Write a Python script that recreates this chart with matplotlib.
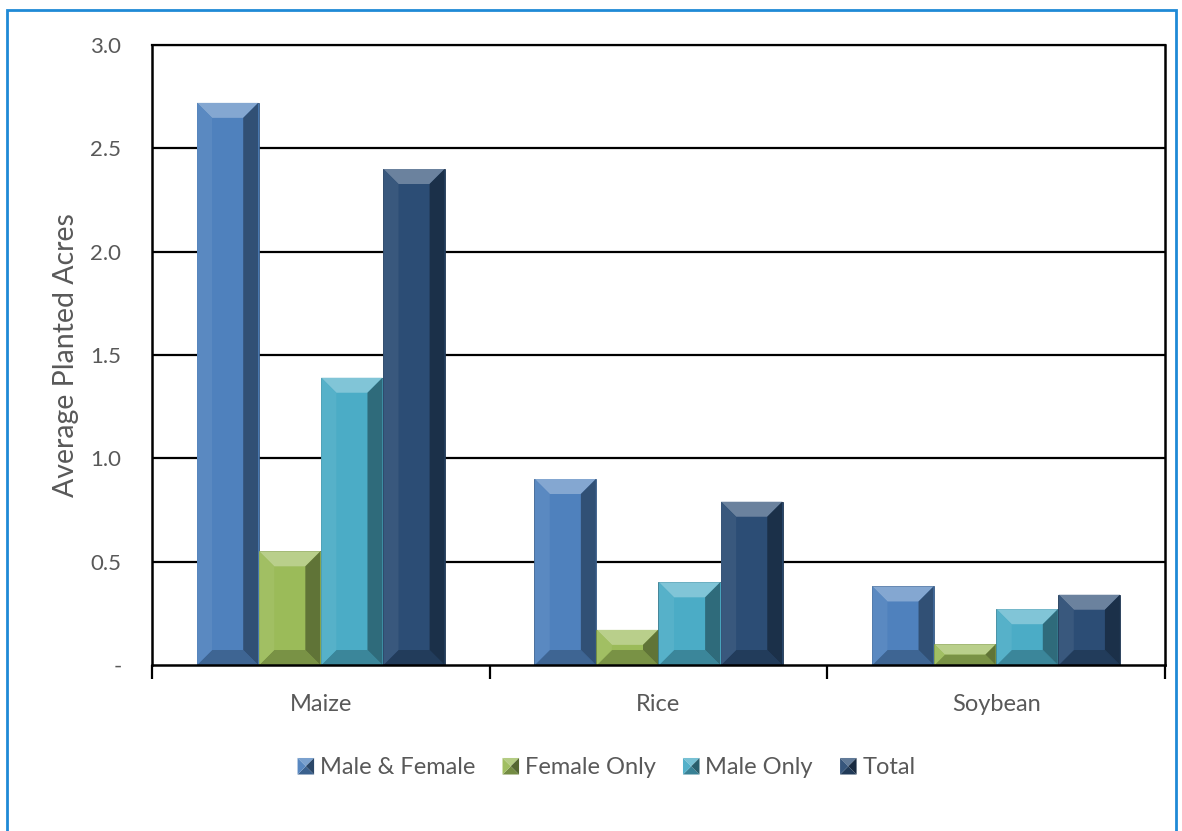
import matplotlib
matplotlib.use("Agg")
import matplotlib.pyplot as plt
import numpy as np
from matplotlib.patches import Polygon, Rectangle
from matplotlib.legend_handler import HandlerBase
from matplotlib.transforms import IdentityTransform
from matplotlib.colors import to_rgb

categories = ["Maize", "Rice", "Soybean"]
series_names = ["Male & Female", "Female Only", "Male Only", "Total"]
male_female = [2.72, 0.90, 0.38]
female_only = [0.55, 0.17, 0.10]
male_only = [1.39, 0.40, 0.27]
total = [2.40, 0.79, 0.34]
yticks = [0, 0.5, 1.0, 1.5, 2.0, 2.5, 3.0]
ytick_labels = ["-", "0.5", "1.0", "1.5", "2.0", "2.5", "3.0"]
colors = ["#4f81bd", "#9bbb59", "#4bacc6", "#2c4d75"]

plt.rcParams['font.family'] = ['Lato', 'DejaVu Sans']
TXT = "#595959"

W, H, DPI = 1182, 831, 100
fig = plt.figure(figsize=(W / DPI, H / DPI), dpi=DPI)
ax = fig.add_axes([152 / W, 1 - 665 / H, (1165 - 152) / W, (665 - 45) / H])

def mix(c, other, t):
    c = np.array(to_rgb(c)); o = np.array(to_rgb(other))
    return tuple(c * (1 - t) + o * t)

series = [male_female, female_only, male_only, total]
x = np.arange(len(categories))
bw = 0.184
ax.set_xlim(-0.5, len(categories) - 0.5)
ax.set_ylim(0, 3.0)

bars_all = []
for i, (vals, c) in enumerate(zip(series, colors)):
    off = (i - 1.5) * bw
    bars = ax.bar(x + off, vals, width=bw, color=c, edgecolor=mix(c, "black", 0.3),
                  linewidth=0.6, zorder=3, label=series_names[i])
    bars_all.append((bars, c))

for y in yticks[1:]:
    ax.axhline(y, color="black", lw=1.6, zorder=1)

for s in ["left", "right", "top", "bottom"]:
    ax.spines[s].set_color("black")
    ax.spines[s].set_linewidth(1.8)
ax.spines["top"].set_linewidth(1.6)
ax.spines["bottom"].set_zorder(5)

ax.set_yticks(yticks)
ax.set_yticklabels(ytick_labels, fontsize=16, color=TXT)
ax.tick_params(axis="y", length=0, pad=22)
ax.set_xticks(x)
ax.set_xticklabels(categories, fontsize=17, color=TXT)
ax.tick_params(axis="x", length=0, pad=21)
ax.set_xticks(np.arange(len(categories) + 1) - 0.5, minor=True)
ax.tick_params(axis="x", which="minor", length=10, width=1.6, color="black", direction="out")
ax.set_ylabel("Average Planted Acres", fontsize=20.5, color=TXT, labelpad=8)

# bevel overlays, computed from the bar geometry in display pixels
def bevel(ax, x0, y0, x1, y1, c, b_max=15, zorder=4):
    w, h = x1 - x0, y1 - y0
    b = min(b_max, h / 2, w / 2)
    polys = [
        ([(x0, y1), (x1, y1), (x1 - b, y1 - b), (x0 + b, y1 - b)], mix(c, "white", 0.30)),
        ([(x0, y0), (x1, y0), (x1 - b, y0 + b), (x0 + b, y0 + b)], mix(c, "black", 0.22)),
        ([(x0, y0), (x0 + b, y0 + b), (x0 + b, y1 - b), (x0, y1)], mix(c, "white", 0.06)),
        ([(x1, y0), (x1 - b, y0 + b), (x1 - b, y1 - b), (x1, y1)], mix(c, "black", 0.38)),
    ]
    for pts, col in polys:
        p = Polygon(pts, closed=True, facecolor=col, edgecolor="none",
                    transform=IdentityTransform(), zorder=zorder)
        ax.add_artist(p)

for bars, c in bars_all:
    for r in bars:
        (px0, py0), (px1, py1) = ax.transData.transform(
            [(r.get_x(), r.get_y()), (r.get_x() + r.get_width(), r.get_y() + r.get_height())])
        bevel(ax, px0 + 0.5, py0, px1 - 0.5, py1, c)

class BevelHandler(HandlerBase):
    def create_artists(self, legend, orig_handle, xdescent, ydescent, width, height, fontsize, trans):
        c = orig_handle.get_facecolor()
        s = height * 1.0
        cx = width - s / 2
        cy = height / 2 - ydescent
        x0, x1, y0, y1 = cx - s / 2, cx + s / 2, cy - s / 2, cy + s / 2
        m = (cx, cy)
        arts = []
        for pts, col in [
            ([(x0, y1), (x1, y1), m], mix(c, "white", 0.25)),
            ([(x0, y0), (x1, y0), m], mix(c, "black", 0.25)),
            ([(x0, y0), (x0, y1), m], mix(c, "white", 0.05)),
            ([(x1, y0), (x1, y1), m], mix(c, "black", 0.45)),
        ]:
            p = Polygon(pts, closed=True, facecolor=col, edgecolor="none", transform=trans)
            arts.append(p)
        return arts

handles = [Rectangle((0, 0), 1, 1, facecolor=c) for c in colors]
leg = fig.legend(handles, series_names, loc="center", bbox_to_anchor=(606 / W, 1 - 768 / H),
                 ncol=4, frameon=False, fontsize=17, labelcolor=TXT,
                 handler_map={Rectangle: BevelHandler()},
                 handlelength=0.75, handletextpad=0.25, columnspacing=1.1)

# outer light-blue frame
fig.patches.append(Rectangle((7 / W, -0.05), (1176 - 7) / W, 1 - 10 / H + 0.05,
                             transform=fig.transFigure, fill=False, edgecolor="#1f8ad6",
                             linewidth=2.0, zorder=0))

fig.savefig("out.png", dpi=DPI)
